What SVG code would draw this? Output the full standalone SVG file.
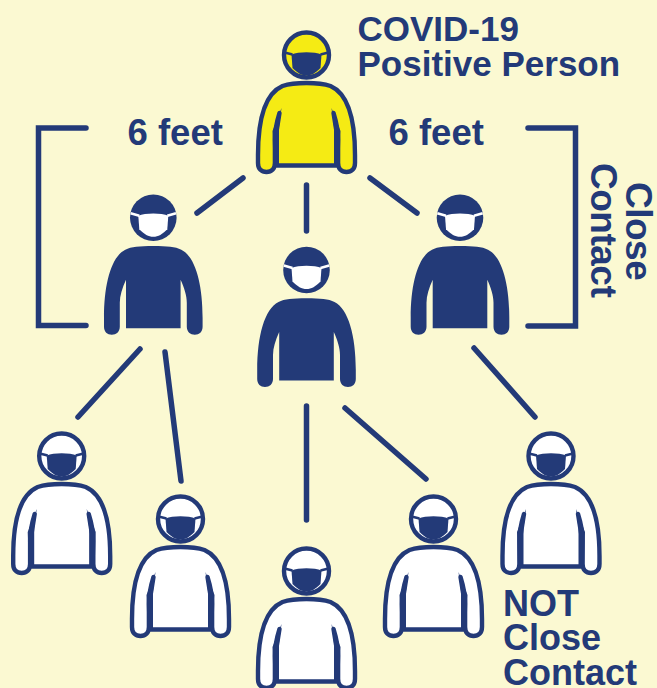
<svg xmlns="http://www.w3.org/2000/svg" width="657" height="688" viewBox="0 0 657 688">
<style>
.t{font-family:"Liberation Sans",Arial,sans-serif;font-weight:700;font-size:36px;fill:#233A78}
.h{font-size:35px}
.f{font-size:36.500px}
.r{font-size:37px;letter-spacing:-0.500px}
.c{fill:none;stroke:#233A78;stroke-width:5.500;stroke-linecap:round}
.b{fill:none;stroke:#233A78;stroke-width:5.500;stroke-linecap:round;stroke-linejoin:miter}
.o{stroke:#233A78;stroke-width:4.400;stroke-linejoin:round}
.m{fill:#233A78}
.y{fill:#F5EB14}.w{fill:#FFFFFF}
</style>
<defs>
<g id="maskdark">
<path class="m" d="M-15,-0.500C-8,-3.500 8,-3.500 15,-0.500L14,13C9,18 5,20.500 0,20.500C-5,20.500 -9,18 -14,13Z"/>
<path d="M-14,-0.500L-22,-2.500M14,-0.500L22,-2.500" fill="none" stroke="#233A78" stroke-width="2.400"/>
<path class="m" d="M-25,53L-34,76L-33,110L-27.500,110L-27.500,72ZM25,53L34,76L33,110L27.500,110L27.500,72Z"/>
</g>
<path id="body" d="M0,28C-12,28 -18,29 -24,31C-40,38 -48.500,62 -48.500,100L-48.500,108C-48.500,114 -45,117 -40,117C-35,117 -31.600,114 -31.600,108L-31.600,85C-31.600,76 -29.500,66 -27,58L-30.200,78L-30.200,110.500L30.200,110.500L30.200,78L27,58C29.500,66 31.600,76 31.600,85L31.600,108C31.600,114 35,117 40,117C45,117 48.500,114 48.500,108L48.500,100C48.500,62 40,38 24,31C18,29 12,28 0,28Z"/>
<g id="darkp">
<path class="m" d="M0,28.300C-14,28.300 -22,29 -28,32C-42,39 -49.300,66 -49.300,100L-49.300,109C-49.300,114 -46,117 -41.500,117C-37,117 -33.500,114 -33.500,109L-33.500,85C-33.500,78 -31,70 -27.300,62L-27.300,110.600L27.300,110.600L27.300,62C31,70 33.500,78 33.500,85L33.500,109C33.500,114 37,117 41.500,117C46,117 49.300,114 49.300,109L49.300,100C49.300,66 42,39 28,32C22,29 14,28.300 0,28.300Z"/>
<circle class="m" r="23.300"/>
<path class="w" d="M-15,-2C-8,-5 8,-5 15,-2L14,11.500C9,16.500 5,19 0,19C-5,19 -9,16.500 -14,11.500Z"/>
<path d="M-14,-2L-22.700,-4.500M14,-2L22.700,-4.500" fill="none" stroke="#FFFFFF" stroke-width="2.600"/>
</g>
</defs>
<rect width="657" height="688" fill="#FBF9D2"/>
<g id="connectors">
<line class="c" x1="243" y1="178" x2="197" y2="213"/>
<line class="c" x1="306.500" y1="185" x2="306.500" y2="231"/>
<line class="c" x1="370" y1="178" x2="417" y2="213"/>
<line class="c" x1="140" y1="349" x2="78" y2="417"/>
<line class="c" x1="165" y1="352" x2="181" y2="481"/>
<line class="c" x1="306.500" y1="406" x2="306.500" y2="520"/>
<line class="c" x1="345" y1="408" x2="426" y2="479"/>
<line class="c" x1="474" y1="348" x2="535" y2="417"/>
<path class="b" d="M86,128H38.500V325.500H86"/>
<path class="b" d="M528,128H575.500V326H528"/>
</g>
<g id="positive" transform="translate(306.500,55)"><use href="#body" class="o y"/><circle class="o y" r="22.500"/><use href="#maskdark"/></g>
<g id="close-left" transform="translate(153.300,217.700)"><use href="#darkp"/></g>
<g id="close-middle" transform="translate(306.500,270)"><use href="#darkp"/></g>
<g id="close-right" transform="translate(460,217.700)"><use href="#darkp"/></g>
<g id="not-1" transform="translate(61.700,456)"><use href="#body" class="o w"/><circle class="o w" r="22.500"/><use href="#maskdark"/></g>
<g id="not-2" transform="translate(180.500,519)"><use href="#body" class="o w"/><circle class="o w" r="22.500"/><use href="#maskdark"/></g>
<g id="not-3" transform="translate(306.500,571)"><use href="#body" class="o w"/><circle class="o w" r="22.500"/><use href="#maskdark"/></g>
<g id="not-4" transform="translate(433.500,519)"><use href="#body" class="o w"/><circle class="o w" r="22.500"/><use href="#maskdark"/></g>
<g id="not-5" transform="translate(551,456)"><use href="#body" class="o w"/><circle class="o w" r="22.500"/><use href="#maskdark"/></g>
<g id="labels">
<text class="t h" x="357.500" y="41">COVID-19</text>
<text class="t h" x="357.500" y="75.500">Positive Person</text>
<text class="t f" x="127.500" y="145">6 feet</text>
<text class="t f" x="388.500" y="145">6 feet</text>
<text class="t r" transform="translate(591,163) rotate(90)">Contact</text>
<text class="t r" transform="translate(626,182) rotate(90)">Close</text>
<text class="t" x="503" y="615.500">NOT</text>
<text class="t" x="503" y="650">Close</text>
<text class="t" x="503" y="685">Contact</text>
</g>
</svg>
